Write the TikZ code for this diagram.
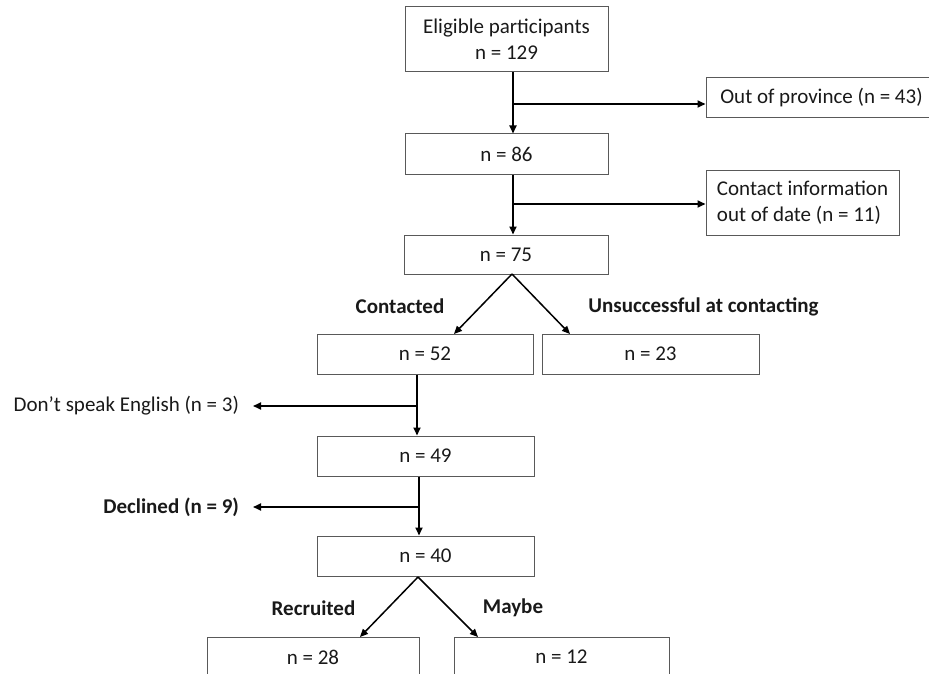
\documentclass[tikz,border=0pt]{standalone}
\usepackage{fontspec}
\setmainfont{Carlito}
\usetikzlibrary{arrows.meta,calc}
\begin{document}
\begin{tikzpicture}[x=1pt,y=-1pt,
  every node/.style={font=\fontsize{21}{26}\selectfont, text=black!90},
  box/.style={draw=black!65, line width=1pt, inner sep=0pt, minimum height=40pt, align=center},
  lbl/.style={font=\fontsize{21}{26}\selectfont\bfseries, inner sep=0pt},
  conn/.style={line width=1.7pt, -{Triangle[length=8pt,width=7pt]}},
  diag/.style={line width=1.5pt, -{Triangle[length=8pt,width=7pt]}}]
\useasboundingbox (0,0) rectangle (929,674);
% boxes
\node[box, minimum width=203pt, minimum height=65pt] (top) at (506.5,39.5) {Eligible participants\\n = 129};
\node[box, minimum width=231pt] (out) at (821.5,98) {Out of province (n = 43)};
\node[box, minimum width=203pt] (n86) at (506.5,154) {n = 86};
\node[box, minimum width=193pt, minimum height=65pt, align=left] (contact) at (802.5,202.5) {Contact information\\out of date (n = 11)};
\node[box, minimum width=204pt, minimum height=39pt] (n75) at (506,254.5) {n = 75};
\node[box, minimum width=216pt] (n52) at (425,354) {n = 52};
\node[box, minimum width=217pt] (n23) at (650.5,354) {n = 23};
\node[box, minimum width=217pt] (n49) at (425.5,456) {n = 49};
\node[box, minimum width=217pt] (n40) at (425.5,556) {n = 40};
\node[box, minimum width=212pt] (n28) at (313,657) {n = 28};
\node[box, minimum width=215pt] (n12) at (561.5,657) {n = 12};
% side labels
\node[anchor=east, inner sep=0pt, outer xsep=14pt] (dse) at (253,406) {Don’t speak English (n = 3)};
\node[lbl, anchor=east, outer xsep=14pt] (dec) at (253,507) {Declined (n = 9)};
\node[lbl] (lcon) at (400,306) {Contacted};
\node[lbl] (luns) at (703.5,307) {Unsuccessful at contacting};
\node[lbl] (lrec) at (313.5,608) {Recruited};
\node[lbl] (lmay) at (513,608) {Maybe};
% coordinates
\coordinate (v1) at (513,104);
\coordinate (v2) at (513,204);
\coordinate (a1) at (512,274);
\coordinate (t52) at (454,334);
\coordinate (t23) at (570,334);
\coordinate (v3) at (417,406);
\coordinate (v4) at (419,507);
\coordinate (a2) at (418,577);
\coordinate (t28) at (360,637);
\coordinate (t12) at (478,637);
% connectors
\draw[conn] (top.south -| v1) -- (n86.north -| v1);
\draw[conn] (v1) -- (v1 -| out.west);
\draw[conn] (n86.south -| v2) -- (n75.north -| v2);
\draw[conn] (v2) -- (v2 -| contact.west);
\draw[diag] (a1) -- (t52);
\draw[diag] (a1) -- (t23);
\draw[conn] (n52.south -| v3) -- (n49.north -| v3);
\draw[conn] (v3) -- (dse.east);
\draw[conn] (n49.south -| v4) -- (n40.north -| v4);
\draw[conn] (v4) -- (dec.east);
\draw[diag] (a2) -- (t28);
\draw[diag] (a2) -- (t12);
\end{tikzpicture}
\end{document}
